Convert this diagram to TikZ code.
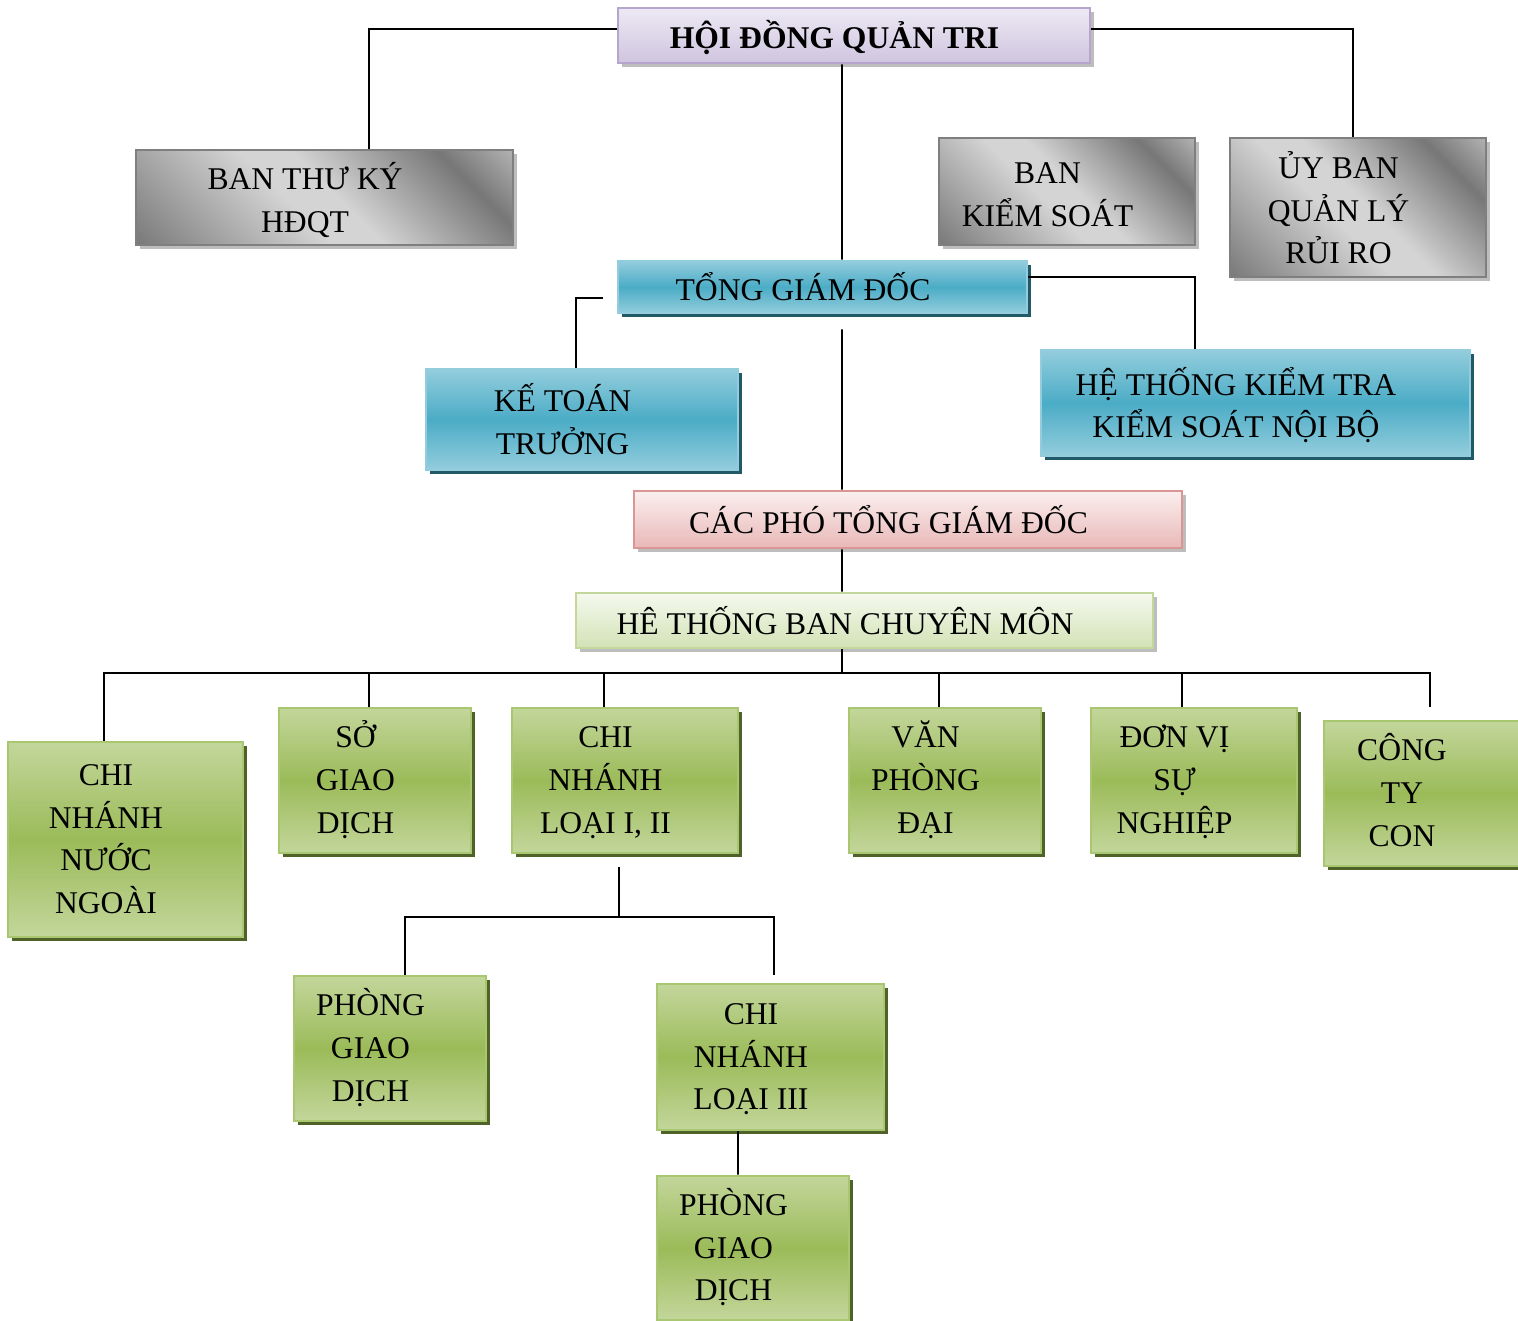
\documentclass[tikz,border=0pt]{standalone}
\usepackage{fontspec}
\setmainfont{Liberation Serif}
\usetikzlibrary{shadows}

\definecolor{lavtop}{HTML}{EDE9F4}
\definecolor{lavbot}{HTML}{CFC5DF}
\definecolor{lavline}{HTML}{B6A6CD}
\definecolor{greyline}{HTML}{7F7F7F}
\definecolor{metaldark}{HTML}{777777}
\definecolor{metallight}{HTML}{D4D4D4}
\definecolor{shadowgrey}{HTML}{BDBDBD}
\definecolor{bluelight}{HTML}{93CDDD}
\definecolor{bluemid}{HTML}{4BACC6}
\definecolor{blueshadow}{HTML}{215968}
\definecolor{pinktop}{HTML}{FBEFEF}
\definecolor{pinkbot}{HTML}{E8B8B7}
\definecolor{pinkline}{HTML}{D99694}
\definecolor{paletop}{HTML}{F5F9EE}
\definecolor{palebot}{HTML}{D3E2B6}
\definecolor{paleline}{HTML}{C3D69B}
\definecolor{greenlight}{HTML}{C3D69B}
\definecolor{greenmid}{HTML}{9BBB59}
\definecolor{greenline}{HTML}{A9C771}
\definecolor{greenshadow}{HTML}{4F6228}

\pgfdeclarehorizontalshading{metal}{100bp}{color(0bp)=(metaldark); color(14bp)=(metaldark);
  color(44bp)=(metallight); color(52bp)=(metallight); color(74bp)=(metaldark); color(92bp)=(metallight); color(100bp)=(metallight)}

\newcommand{\textdrop}{0.1cm}
\newcommand{\boxtext}[1]{\raisebox{-\textdrop}[\height][\depth]{\begin{tabular}{@{}c@{}}#1\end{tabular}}\hspace*{0.78cm}}

\tikzset{
  orgbox/.style={draw, line width=1.5pt, inner sep=0pt, font=\fontsize{18}{24.2}\selectfont},
  dims/.style 2 args={minimum width=#1*0.02cm, minimum height=#2*0.02cm},
  greyshadow/.style={general shadow={fill=shadowgrey, shadow xshift=0.08cm, shadow yshift=-0.08cm}},
  lavbox/.style={orgbox, greyshadow, draw=lavline, top color=lavtop, bottom color=lavbot},
  greybox/.style={orgbox, greyshadow, draw=greyline, shading=metal, shading angle=45},
  bluebox/.style={orgbox, draw=bluelight, top color=bluelight, bottom color=bluelight, middle color=bluemid,
    general shadow={fill=blueshadow, shadow xshift=0.08cm, shadow yshift=-0.08cm}},
  pinkbox/.style={orgbox, greyshadow, draw=pinkline, top color=pinktop, bottom color=pinkbot},
  palebox/.style={orgbox, greyshadow, draw=paleline, top color=paletop, bottom color=palebot},
  greenbox/.style={orgbox, draw=greenline, top color=greenlight, bottom color=greenlight, middle color=greenmid,
    general shadow={fill=greenshadow, shadow xshift=0.08cm, shadow yshift=-0.08cm},
    execute at begin node={\def\textdrop{0.03cm}}},
  link/.style={line width=1.1pt}
}

\begin{document}
\begin{tikzpicture}[x=0.02cm, y=-0.02cm]
  \useasboundingbox (0,0) rectangle (1518,1321);

  % board and management
  \node[lavbox, dims={472}{55}] (hdqt) at (854,35.5) {\boxtext{\textbf{HỘI ĐỒNG QUẢN TRI}}};
  \node[greybox, dims={377}{95}] (btk) at (324.5,197.5) {\boxtext{BAN THƯ KÝ\\HĐQT}};
  \node[greybox, dims={256}{107}] (bks) at (1067,191.5) {\boxtext{BAN\\KIỂM SOÁT}};
  \node[greybox, dims={256}{139}] (uyban) at (1358,207.5) {\boxtext{ỦY BAN\\QUẢN LÝ\\RỦI RO}};
  \node[bluebox, dims={409}{52}] (tgd) at (822.5,287) {\boxtext{TỔNG GIÁM ĐỐC}};
  \node[bluebox, dims={312}{101}] (ktt) at (582,419.5) {\boxtext{KẾ TOÁN\\TRƯỞNG}};
  \node[bluebox, dims={429}{106}] (htkt) at (1255.5,403) {\boxtext{HỆ THỐNG KIỂM TRA\\KIỂM SOÁT NỘI BỘ}};
  \node[pinkbox, dims={548}{57}] (cptgd) at (908,519.5) {\boxtext{CÁC PHÓ TỔNG GIÁM ĐỐC}};
  \node[palebox, dims={577}{55}] (htbcm) at (864.5,620.5) {\boxtext{HÊ THỐNG BAN CHUYÊN MÔN}};

  % units
  \node[greenbox, dims={235}{195}] (cnnn) at (125.5,839.5) {\boxtext{CHI\\NHÁNH\\NƯỚC\\NGOÀI}};
  \node[greenbox, dims={192}{145}] (sgd) at (375,780.5) {\boxtext{SỞ\\GIAO\\DỊCH}};
  \node[greenbox, dims={226}{145}] (cnl12) at (625,780.5) {\boxtext{CHI\\NHÁNH\\LOẠI I, II}};
  \node[greenbox, dims={192}{145}] (vpd) at (945,780.5) {\boxtext{VĂN\\PHÒNG\\ĐẠI}};
  \node[greenbox, dims={206}{145}] (dvsn) at (1194,780.5) {\boxtext{ĐƠN VỊ\\SỰ\\NGHIỆP}};
  \node[greenbox, dims={195}{145}] (cty) at (1421.5,793.5) {\boxtext{CÔNG\\TY\\CON}};
  \node[greenbox, dims={192}{145}] (pgd1) at (390,1048.5) {\boxtext{PHÒNG\\GIAO\\DỊCH}};
  \node[greenbox, dims={227}{146}] (cnl3) at (770.5,1057) {\boxtext{CHI\\NHÁNH\\LOẠI III}};
  \node[greenbox, dims={192}{144}] (pgd2) at (753,1248) {\boxtext{PHÒNG\\GIAO\\DỊCH}};

  % connectors
  \draw[link] ([yshift=0.13cm]hdqt.west) -| ([xshift=0.89cm]btk.north);
  \draw[link] ([yshift=0.13cm]hdqt.east) -| ([xshift=-0.1cm]uyban.north);
  \draw[link] ([xshift=-0.24cm]hdqt.south) -- ([xshift=0.39cm]tgd.north);
  \draw[link] ([xshift=-0.28cm,yshift=-0.22cm]tgd.west) -| ([xshift=-0.12cm]ktt.north);
  \draw[link] ([yshift=0.2cm]tgd.east) -| ([xshift=-1.21cm]htkt.north);
  \draw[link] ([xshift=0.39cm,yshift=-0.3cm]tgd.south) -- ([xshift=-1.32cm]cptgd.north);
  \draw[link] ([xshift=-1.32cm]cptgd.south) -- ([xshift=-0.45cm]htbcm.north);

  \coordinate (bus) at ([xshift=-0.45cm,yshift=-0.48cm]htbcm.south);
  \draw[link] ([xshift=-0.45cm]htbcm.south) -- (bus);
  \foreach \n/\dx in {cnnn/-0.43cm, sgd/-0.12cm, cnl12/-0.42cm, vpd/-0.12cm, dvsn/-0.24cm}
    \draw[link] (bus) -| ([xshift=\dx]\n.north);
  \draw[link] (bus) -| ([xshift=0.17cm,yshift=0.26cm]cty.north);

  \coordinate (bus2) at ([xshift=-0.12cm,yshift=-1.26cm]cnl12.south);
  \draw[link] ([xshift=-0.12cm,yshift=-0.26cm]cnl12.south) -- (bus2);
  \draw[link] (bus2) -| ([xshift=0.3cm]pgd1.north);
  \draw[link] (bus2) -| ([xshift=0.07cm,yshift=0.16cm]cnl3.north);
  \draw[link] ([xshift=-0.65cm]cnl3.south) -- ([xshift=-0.3cm]pgd2.north);
\end{tikzpicture}
\end{document}
